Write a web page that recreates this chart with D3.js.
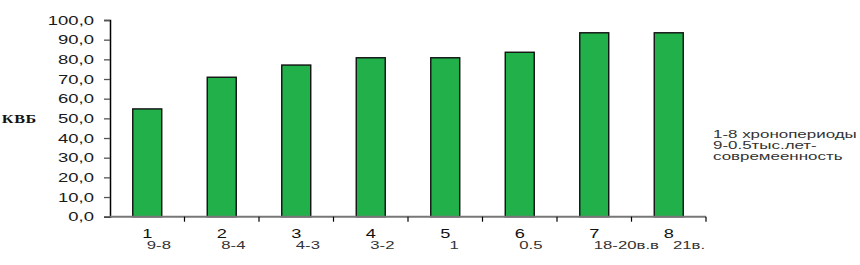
<!DOCTYPE html>
<html><head><meta charset="utf-8">
<script src="https://cdn.jsdelivr.net/npm/d3@7/dist/d3.min.js"></script>
<style>body{margin:0;background:#fff}svg{display:block}</style>
</head><body>
<svg id="c" width="860" height="265"></svg>
<script>
const categories = ["1","2","3","4","5","6","7","8"];
const subLabels = ["9-8","8-4","4-3","3-2"," 1","0.5","18-20в.в"," 21в."];
const values = [54.8, 70.9, 77.1, 80.8, 80.8, 83.6, 93.5, 93.5];
const yTicks = [0,10,20,30,40,50,60,70,80,90,100];
const yTitle = "КВБ";
const noteLines = ["1-8 хронопериоды","9-0.5тыс.лет-","совремеенность"];

const FONT = "Liberation Sans, Arial, sans-serif";
const svg = d3.select("#c");
const xb = d3.scaleBand().domain(categories).range([110, 706]);
const y = d3.scaleLinear().domain([0,100]).range([216.7, 20]);
const fmt = d => d3.format(".1f")(d).replace(".", ",");

// bars
svg.selectAll("rect.bar").data(values).join("rect")
  .attr("class","bar")
  .attr("x",(d,i)=>xb(categories[i]) + xb.bandwidth()/2 - 14.5)
  .attr("width",29)
  .attr("y",d=>y(d))
  .attr("height",d=>y(0)-y(d))
  .attr("fill","#22b04b").attr("stroke","#111").attr("stroke-width",1.4);

// y axis
const SY = 1.42;
const ya = svg.append("g").attr("transform","translate(110,0)")
  .call(d3.axisLeft(y).tickValues(yTicks).tickFormat(fmt).tickSize(6).tickPadding(10));
ya.select(".domain").attr("stroke","#000").attr("stroke-width",1.5);
ya.selectAll(".tick line").attr("stroke","#555").attr("stroke-width",1.3);
ya.selectAll(".tick text").attr("font-family",FONT).attr("font-size",13).attr("fill","#1a1a1a")
  .attr("x",-16/SY).attr("transform",`scale(${SY},1)`);

// x axis
svg.append("line").attr("x1",110).attr("x2",706).attr("y1",y(0)).attr("y2",y(0))
  .attr("stroke","#777").attr("stroke-width",2);
svg.selectAll("line.xt").data(categories).join("line").attr("class","xt")
  .attr("x1",d=>xb(d)+xb.bandwidth()).attr("x2",d=>xb(d)+xb.bandwidth())
  .attr("y1",y(0)).attr("y2",y(0)+5).attr("stroke","#000").attr("stroke-width",1.2);

svg.selectAll("text.cat").data(categories).join("text").attr("class","cat")
  .attr("transform",d=>`translate(${xb(d)+xb.bandwidth()/2},238) scale(1.4,1)`)
  .attr("text-anchor","middle")
  .attr("font-family",FONT).attr("font-size",13).attr("fill","#111")
  .text(d=>d);
svg.selectAll("text.sub").data(subLabels).join("text").attr("class","sub")
  .attr("transform",(d,i)=>`translate(${xb(categories[i])+xb.bandwidth()/2 - 0.5},249) scale(1.55,1)`)
  .attr("font-family",FONT).attr("font-size",10.8).attr("fill","#333")
  .style("white-space","pre")
  .text(d=>d);

// y title
svg.append("text").attr("transform","translate(37,123) scale(1.35,1)").attr("text-anchor","end")
  .attr("font-family","Liberation Serif, serif").attr("font-weight","bold").attr("font-size",12)
  .attr("letter-spacing",0.5).attr("fill","#111").text(yTitle);

// note
svg.selectAll("text.note").data(noteLines).join("text").attr("class","note")
  .attr("transform",(d,i)=>`translate(713,${138 + i*11}) scale(1.54,1)`)
  .attr("font-family",FONT).attr("font-size",11).attr("fill","#333")
  .text(d=>d);
</script>
</body></html>
